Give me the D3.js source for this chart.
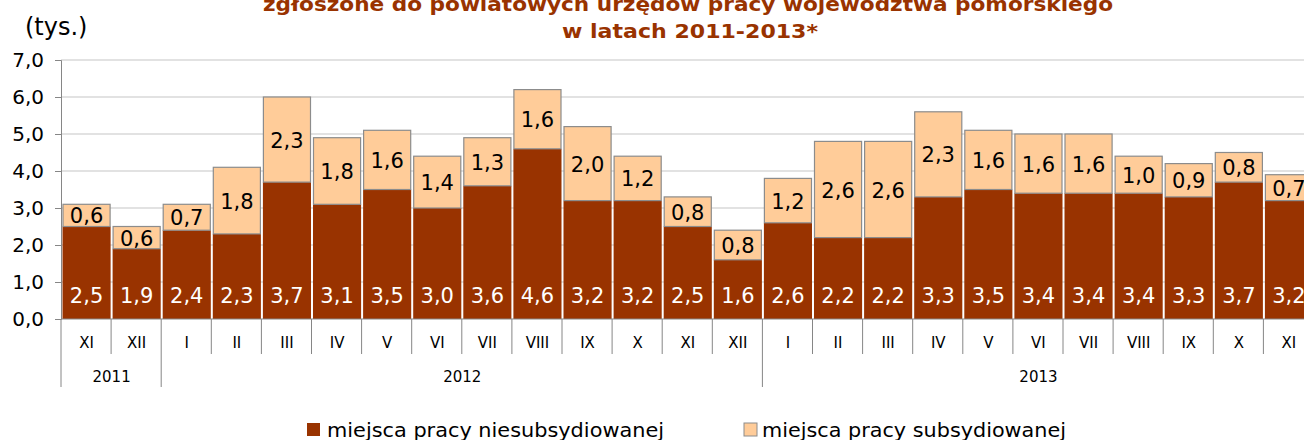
<!DOCTYPE html>
<html>
<head>
<meta charset="utf-8">
<script src="https://cdn.jsdelivr.net/npm/d3@7"></script>
<style>
  body { margin: 0; background: #fff; }
  svg { display: block; font-family: "DejaVu Sans", Verdana, sans-serif; }
</style>
</head>
<body>
<div id="chart"></div>
<script>
const months = ["XI", "XII", "I", "II", "III", "IV", "V", "VI", "VII", "VIII", "IX", "X", "XI", "XII",
  "I", "II", "III", "IV", "V", "VI", "VII", "VIII", "IX", "X", "XI"];
const years = [
  { label: "2011", from: 0, to: 2 },
  { label: "2012", from: 2, to: 14 },
  { label: "2013", from: 14, to: 25 }
];
const niesubsydiowane = [2.5, 1.9, 2.4, 2.3, 3.7, 3.1, 3.5, 3.0, 3.6, 4.6, 3.2, 3.2, 2.5, 1.6,
  2.6, 2.2, 2.2, 3.3, 3.5, 3.4, 3.4, 3.4, 3.3, 3.7, 3.2];
const subsydiowane = [0.6, 0.6, 0.7, 1.8, 2.3, 1.8, 1.6, 1.4, 1.3, 1.6, 2.0, 1.2, 0.8, 0.8,
  1.2, 2.6, 2.6, 2.3, 1.6, 1.6, 1.6, 1.0, 0.9, 0.8, 0.7];
const yTicks = [0, 1, 2, 3, 4, 5, 6, 7];
const titleLines = ["zgłoszone do powiatowych urzędów pracy województwa pomorskiego", "w latach 2011-2013*"];
const legendLabels = ["miejsca pracy niesubsydiowanej", "miejsca pracy subsydiowanej"];

const dark = "#993300", light = "#FFCC99";
const fmt = v => d3.format(".1f")(v).replace(".", ",");

const width = 1304, height = 440;
const svg = d3.select("#chart").append("svg")
  .attr("width", width).attr("height", height);

const x = d3.scaleBand().domain(d3.range(months.length)).range([61.5, 1314]).padding(0);
const y = d3.scaleLinear().domain([0, 7]).range([319, 60]);

// gridlines
svg.append("g").selectAll("line").data(yTicks.slice(1)).join("line")
  .attr("x1", 61).attr("x2", width)
  .attr("y1", d => y(d)).attr("y2", d => y(d))
  .attr("stroke", "#d9d9d9").attr("stroke-width", 1.5);

// y axis
const yAxis = svg.append("g").attr("transform", "translate(61,0)")
  .call(d3.axisLeft(y).tickValues(yTicks).tickFormat(fmt).tickSize(6).tickPadding(11));
yAxis.select(".domain").attr("stroke", "#868686");
yAxis.selectAll(".tick line").attr("stroke", "#868686");
yAxis.selectAll(".tick text").attr("font-size", 20).attr("fill", "#000")
  .attr("font-family", "DejaVu Sans, sans-serif");

svg.append("text").attr("x", 25).attr("y", 35).attr("font-size", 24).text("(tys.)");

// bars
const bars = svg.append("g");
bars.selectAll("rect.dark").data(niesubsydiowane).join("rect")
  .attr("class", "dark")
  .attr("x", (d, i) => x(i) + 1)
  .attr("width", x.bandwidth() - 2)
  .attr("y", d => y(d))
  .attr("height", d => y(0) - y(d))
  .attr("fill", dark);
bars.selectAll("rect.light").data(subsydiowane).join("rect")
  .attr("class", "light")
  .attr("x", (d, i) => x(i) + 1.5)
  .attr("width", x.bandwidth() - 3)
  .attr("y", (d, i) => y(niesubsydiowane[i] + d))
  .attr("height", (d, i) => y(niesubsydiowane[i]) - y(niesubsydiowane[i] + d))
  .attr("fill", light).attr("stroke", "#8c8c8c").attr("stroke-width", 1.2);

// value labels
svg.append("g").selectAll("text").data(niesubsydiowane).join("text")
  .attr("x", (d, i) => x(i) + x.bandwidth() / 2)
  .attr("y", y(0) - 16)
  .attr("text-anchor", "middle").attr("font-size", 21).attr("fill", "#fff")
  .text(fmt);
svg.append("g").selectAll("text").data(subsydiowane).join("text")
  .attr("x", (d, i) => x(i) + x.bandwidth() / 2)
  .attr("y", (d, i) => y(niesubsydiowane[i] + d / 2) + 8)
  .attr("text-anchor", "middle").attr("font-size", 21).attr("fill", "#000")
  .text(fmt);

// x axis
const axis = svg.append("g").attr("stroke", "#868686").attr("stroke-width", 1);
axis.append("line").attr("x1", 61).attr("x2", width).attr("y1", y(0)).attr("y2", y(0));
const yearEdges = new Set(years.map(d => d.from).concat([months.length]));
axis.selectAll("line.sep").data(d3.range(months.length + 1)).join("line")
  .attr("class", "sep")
  .attr("x1", i => i < months.length ? x(i) - 0.5 : x.range()[1])
  .attr("x2", i => i < months.length ? x(i) - 0.5 : x.range()[1])
  .attr("y1", y(0))
  .attr("y2", i => yearEdges.has(i) ? 387 : 354);

svg.append("g").selectAll("text").data(months).join("text")
  .attr("x", (d, i) => x(i) + x.bandwidth() / 2)
  .attr("y", 348)
  .attr("text-anchor", "middle").attr("font-size", 15).attr("fill", "#000")
  .text(d => d);

svg.append("g").selectAll("text").data(years).join("text")
  .attr("x", d => (x(d.from) + (d.to < months.length ? x(d.to) : x.range()[1])) / 2)
  .attr("y", 382)
  .attr("text-anchor", "middle").attr("font-size", 15).attr("fill", "#000")
  .text(d => d.label);

// title
const title = svg.append("g").attr("font-weight", "bold").attr("fill", dark)
  .attr("font-size", 20).attr("text-anchor", "middle")
  .attr("font-family", "DejaVu Sans Condensed, DejaVu Sans, sans-serif");
title.append("text").attr("x", 688).attr("y", 11).text(titleLines[0])
  .attr("textLength", 850).attr("lengthAdjust", "spacingAndGlyphs");
title.append("text").attr("x", 690).attr("y", 38).text(titleLines[1])
  .attr("textLength", 256).attr("lengthAdjust", "spacingAndGlyphs");

// legend
const legend = svg.append("g");
const legendPos = [{ sx: 307, tx: 327, w: 337 }, { sx: 744, tx: 762, w: 304 }];
legend.selectAll("rect").data(legendLabels).join("rect")
  .attr("x", (d, i) => legendPos[i].sx).attr("y", 423)
  .attr("width", 13).attr("height", 13)
  .attr("fill", (d, i) => i === 0 ? dark : light)
  .attr("stroke", (d, i) => i === 0 ? "none" : "#8c8c8c");
legend.selectAll("text").data(legendLabels).join("text")
  .attr("x", (d, i) => legendPos[i].tx).attr("y", 437)
  .attr("font-size", 19).attr("fill", "#000")
  .attr("textLength", (d, i) => legendPos[i].w).attr("lengthAdjust", "spacingAndGlyphs")
  .text(d => d);
</script>
</body>
</html>
